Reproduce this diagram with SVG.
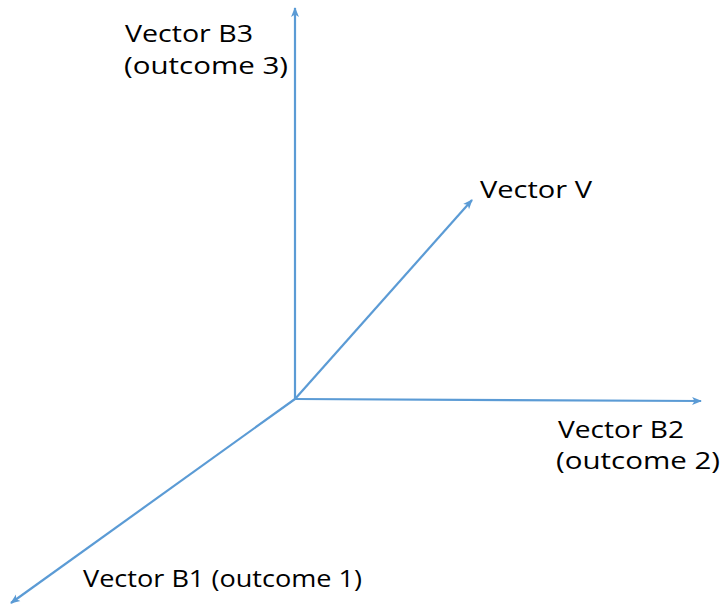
<svg xmlns="http://www.w3.org/2000/svg" width="722" height="607" viewBox="0 0 722 607">
<defs>
<marker id="arr" viewBox="0 0 10 10" refX="9" refY="5" markerWidth="4.5" markerHeight="4.5" orient="auto" markerUnits="strokeWidth">
<path d="M0,1 L10,5 L0,9 L2.5,5 Z" fill="#5B9BD5"/>
</marker>
</defs>
<style>
.ax{stroke:#5B9BD5;stroke-width:2.2;fill:none;marker-end:url(#arr)}
.lb{font-family:"Open Sans","DejaVu Sans",sans-serif;font-size:24px;fill:#000}
</style>
<rect width="722" height="607" fill="#fff"/>
<g id="connectors">
<line class="ax" x1="295" y1="399" x2="295" y2="8"/>
<line class="ax" x1="295" y1="399" x2="701" y2="401"/>
<line class="ax" x1="295" y1="399" x2="472" y2="200"/>
<line class="ax" x1="295" y1="399" x2="11" y2="603"/>
</g>
<g id="b3"><text class="lb" x="125" y="42" textLength="128" lengthAdjust="spacingAndGlyphs">Vector B3</text>
<text class="lb" x="124" y="74" textLength="164" lengthAdjust="spacingAndGlyphs">(outcome 3)</text></g>
<g id="v"><text class="lb" x="480" y="198" textLength="112" lengthAdjust="spacingAndGlyphs">Vector V</text></g>
<g id="b2"><text class="lb" x="558" y="438" textLength="126" lengthAdjust="spacingAndGlyphs">Vector B2</text>
<text class="lb" x="556" y="469" textLength="164" lengthAdjust="spacingAndGlyphs">(outcome 2)</text></g>
<g id="b1"><text class="lb" x="83" y="587" textLength="279" lengthAdjust="spacingAndGlyphs">Vector B1 (outcome 1)</text></g>
</svg>
